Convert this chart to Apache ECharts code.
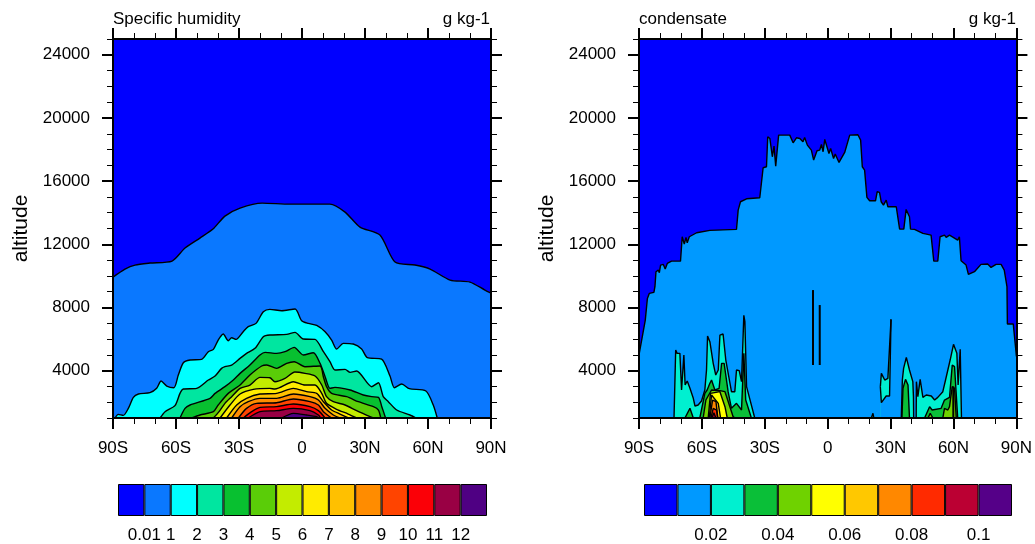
<!DOCTYPE html>
<html>
<head>
<meta charset="utf-8">
<style>
html,body{margin:0;padding:0;background:#fff;}
#main{width:1035px;height:544px;}
</style>
<script src="https://cdn.jsdelivr.net/npm/echarts@6/dist/echarts.min.js"></script>
</head>
<body>
<div id="main"></div>
<script>
// tick labels
var latTicks = [-90, -60, -30, 0, 30, 60, 90];
var latLabels = ['90S', '60S', '30S', '0', '30N', '60N', '90N'];
var altTicks = [4000, 8000, 12000, 16000, 20000, 24000];

// colour bars
var humidityColors = ['#0000ff', '#0a78ff', '#00ffff', '#00e6a0', '#08c030', '#5acd08', '#c3ec00', '#ffeb00', '#ffc000', '#ff8c00', '#ff4400', '#fb0007', '#990044', '#4f0083'];
var humidityBarLabels = ['', '0.01', '1', '2', '3', '4', '5', '6', '7', '8', '9', '10', '11', '12', ''];
var condensateColors = ['#0000ff', '#0099ff', '#00f0d0', '#0abf38', '#6fd200', '#ffff00', '#ffc800', '#ff8800', '#ff2a00', '#bb0033', '#550088'];
var condensateBarLabels = ['', '', '0.02', '', '0.04', '', '0.06', '', '0.08', '', '0.1', ''];

// specific humidity contours, [lat, altitude]
var q001 = [[-90,9925],[-84.3,10432],[-79.5,10685],[-72.4,10812],[-61.9,10938],[-55.7,11761],[-48.6,12394],[-42.4,12964],[-36.7,13787],[-29.5,14293],[-19,14610],[-5.7,14546],[13.3,14546],[20.5,14040],[27.6,13090],[37.1,12584],[44.3,10875],[53.8,10685],[61,10432],[70.5,9735],[80,9609],[87.1,9102],[90,8913]];
var q1 = [[-89,1000],[-87.5,1232],[-85.1,1168],[-82.7,1611],[-80.3,2308],[-77.9,2519],[-72.4,2603],[-69.2,2878],[-67.1,3342],[-64.4,3025],[-61,2920],[-58.9,3722],[-56.5,4502],[-53.3,4671],[-47.8,4713],[-44.6,5198],[-42.2,5346],[-39.9,5937],[-37.5,6317],[-35.1,5895],[-33.5,6085],[-31.4,5979],[-28,6465],[-25.6,6781],[-21.9,6992],[-18.4,7730],[-15.3,7878],[-9.7,7794],[-3.3,7900],[-0.15,7161],[3,6992],[7,6865],[11,6465],[14.1,5937],[16.5,5367],[19.7,5726],[24.4,5684],[28.4,5367],[31.1,4819],[37.9,4734],[41.9,3658],[44,2920],[47.5,3152],[51.1,2856],[59,2709],[62.5,1822],[64.4,1000]];
var q2 = [[-67.6,1000],[-65.2,1400],[-60.5,1780],[-58.1,2560],[-56.5,2835],[-50.2,2878],[-44.6,3405],[-41.4,3658],[-38.3,4143],[-36.7,4249],[-33.5,4355],[-29.5,4777],[-26.4,5093],[-22.4,5410],[-18.4,6148],[-15.3,6253],[-7.3,6296],[-3.3,6422],[0.6,6000],[6.2,5979],[10.2,5198],[13.3,4565],[15.7,4038],[20.5,4080],[22.9,3890],[26,3975],[33.2,2983],[36.4,3236],[38.7,2350],[41.1,2033],[45.1,1506],[51.4,1190],[54.3,1000]];
var q3 = [[-58.1,1000],[-55.7,1611],[-53.3,1822],[-43.8,2245],[-41.4,2560],[-36.7,2983],[-32.7,3405],[-29.5,3827],[-24.8,4355],[-20,4988],[-17.6,5156],[-12.1,5093],[-8.1,5198],[-3.7,5473],[0.6,4988],[5.4,5135],[8.6,4460],[11,3616],[13.3,2878],[15.7,2940],[22.9,2772],[29.2,2456],[33.2,2350],[36.4,2308],[38,1717],[39.8,1000]];
var q4 = [[-52.5,1000],[-48.6,1190],[-42.2,1400],[-39.9,1822],[-35.1,2560],[-29.5,3088],[-24.8,3722],[-19.2,4292],[-16.8,4355],[-12.1,4143],[-7.3,4460],[-3.7,4565],[1.4,4249],[8.6,4292],[10.2,3600],[11.7,2983],[14.1,2560],[21.3,2350],[26.8,2033],[34,1717],[36.4,1506],[37.5,1000]];
var q5 = [[-42.2,1000],[-39.5,1400],[-36.7,1928],[-33.5,2350],[-29.5,2878],[-24.8,3088],[-20,3574],[-15.3,3553],[-12.9,3300],[-8.1,3510],[-3.4,3910],[1.4,3827],[6.2,3658],[9.4,3088],[11.7,2350],[14.9,2033],[20.5,1822],[26,1464],[32.4,1084],[34,1000]];
var q6 = [[-39,1000],[-34.3,1822],[-29.5,2519],[-23.2,2814],[-15.3,2878],[-12.9,2835],[-4.1,3300],[1.4,3088],[6.2,3088],[9.4,2560],[11.7,1928],[16.5,1548],[22,1252],[26,1000]];
var q7 = [[-35.9,1000],[-31.1,1822],[-26.4,2245],[-20,2519],[-12.1,2560],[-4.1,2878],[2.2,2667],[7,2560],[10.2,2033],[14.1,1506],[18.1,1252],[22.1,1000]];
var q8 = [[-33.5,1000],[-29.5,1717],[-25.6,2033],[-20,2245],[-12.1,2245],[-4.1,2519],[3.8,2350],[7.8,2140],[11,1611],[14.9,1190],[18.1,1000]];
var q9 = [[-30.3,1000],[-26.4,1611],[-21.6,1928],[-12.1,1970],[-4.1,2203],[3.8,2033],[7.8,1822],[10.2,1400],[14.1,1000]];
var q10 = [[-27.9,1000],[-24,1400],[-20,1675],[-12.1,1717],[-4.1,1886],[3.8,1717],[7.8,1464],[11,1000]];
var q11 = [[-25.6,1000],[-20,1400],[-12.1,1464],[-4.1,1611],[3.8,1464],[7.8,1190],[8.9,1000]];
var q12 = [[-9.7,1000],[-4.1,1295],[2.2,1190],[7,1084],[7.8,1000]];
var humidityContours = [q001, q1, q2, q3, q4, q5, q6, q7, q8, q9, q10, q11, q12];

// condensate contours, [lat, altitude]
var cTop = [[-90,5000],[-89.6,5000],[-87,7200],[-86,8570],[-85.1,8891],[-82.9,8954],[-82.4,9313],[-81.9,10263],[-80.8,10368],[-80.3,10199],[-79.7,10685],[-78.4,10727],[-77.5,10431],[-76.5,10790],[-74.5,10937],[-70.2,10937],[-69.4,12478],[-68.4,12014],[-67.6,12436],[-67,12098],[-66,12478],[-62.5,12731],[-56.2,12879],[-43.5,12942],[-42.7,14166],[-41.6,14694],[-38.7,14883],[-32.4,14947],[-30.8,16846],[-29.2,16909],[-28.6,18808],[-27.6,18703],[-26.4,17542],[-25.6,18217],[-24.8,16951],[-24.3,16951],[-23.4,18913],[-18.1,18913],[-16.5,18428],[-14.9,18745],[-13.3,18703],[-11.8,18491],[-11,18766],[-9.7,18280],[-7.8,17964],[-6.7,17331],[-5.1,17922],[-3.8,17964],[-3,18323],[-2.2,17859],[-1.4,18639],[0.6,17753],[1.4,18069],[2.8,17437],[3.6,17711],[5.4,17183],[8.1,17816],[10.5,18913],[14.4,18935],[15.7,18597],[16.5,16909],[17.6,16698],[18.7,14968],[20,14757],[22.8,14757],[23.6,15327],[24.7,15284],[25.5,14694],[26.6,14482],[27.9,14799],[28.7,14377],[32.7,14377],[34.3,12963],[36.3,12963],[37.4,14208],[39,13744],[39.5,12963],[41.4,12942],[45.4,12689],[49.3,12584],[50.6,10937],[52.5,10937],[53.6,12478],[55.7,12584],[56.5,12436],[58.1,12584],[62,12267],[62.8,12478],[63.6,10958],[66,10685],[67.1,10094],[70,10263],[73.1,10727],[76.3,10748],[77.9,10537],[80.3,10727],[82.7,10727],[84.2,10368],[85.5,9313],[85.7,6950],[88.5,6950],[89.8,5200],[90,4900]];
var c2West = [[-73.3,1000],[-72.5,5304],[-71.8,5093],[-71.2,4990],[-70.5,5093],[-69.7,2772],[-69,2772],[-68.6,4988],[-68,3088],[-67,3342],[-65.7,2878],[-64.1,2245],[-63.3,1759],[-61.8,1822],[-60.2,2076],[-58.6,2772],[-57.8,4038],[-57.3,6190],[-56.2,5831],[-54.6,4460],[-53.4,3722],[-52.2,4038],[-51.4,6253],[-49.9,6317],[-48.6,4671],[-45.9,2667],[-44.3,2667],[-43.5,4038],[-42.2,3996],[-41.1,3300],[-40,7500],[-39.5,7100],[-38.7,2983],[-34.8,1000]];
var c2Island = [[25.1,2983],[25.6,3827],[27.2,3405],[28.7,3511],[30.2,7245]];
var c2IslandLow = [[25.1,2983],[25.6,1970],[27.9,2392],[29.5,2392],[30.2,7245]];
var c2Blip = [[20.8,1000],[21.6,1295],[22,1000]];
var c2Hump = [[35.1,1000],[35.6,3405],[36.2,4143],[37.5,4840],[39,4038],[40.6,3300],[40.9,2350],[41,1000]];
var c2East = [[42.2,1000],[42.3,3300],[43,2350],[44.1,3447],[45.4,2308],[47,2456],[49.4,2392],[51,2139],[52.5,2308],[54.9,2667],[56.2,3405],[58.4,4671],[60,5663],[61.6,5093],[62.2,3089],[63.2,5346],[63.8,1000]];
var c3a = [[-68.1,1000],[-65.7,1612],[-64.1,1000]];
var c3b = [[-61,1000],[-58.6,2561],[-57.5,2772],[-56.2,3194],[-55.4,3405],[-53.8,2772],[-51.8,2877],[-50.6,4460],[-49.4,4460],[-47.5,2667],[-45.9,1612],[-43.5,1928],[-41.1,1506],[-40,5093],[-39.1,2139],[-36.4,1000]];
var c3c = [[35.4,1000],[35.9,2877],[37.1,3447],[38.3,3089],[39,1000]];
var c3d = [[46.2,1000],[48.6,1717],[49.8,1506],[54.1,1612],[55.7,2139],[58.1,2308],[59.4,4354],[60.5,4249],[62,1000]];
var c4a = [[-59.4,1000],[-58.1,2139],[-55.4,2772],[-51.4,2730],[-49,2667],[-45.1,1084],[-44.3,1000]];
var c4b = [[47.8,1000],[48.9,1295],[50.2,1000]];
var c4c = [[54.9,1000],[55.7,1612],[57.3,1506],[58.1,1717],[59.4,2983],[60.5,2878],[61.3,1000]];
var c5 = [[-57,1000],[-55.9,2561],[-51.4,2667],[-49,1717],[-47.9,1000]];
var c6 = [[-56.5,1000],[-55.4,2455],[-54.6,2561],[-52.2,1928],[-51.1,1000]];
var c7 = [[-56.2,1000],[-54.9,2139],[-53.3,2033],[-52.4,1000]];
var c8 = [[-55.7,1000],[-54.6,1612],[-53,1506],[-52.5,1000]];
var c9 = [[-55.2,1000],[-54.3,1337],[-53.3,1000]];
var condensateContours = [cTop, c2West, c2Island, c2IslandLow, c2Blip, c2Hump, c2East, c3a, c3b, c3c, c3d, c4a, c4b, c4c, c5, c6, c7, c8, c9];
// which colour of the bar fills each contour above
var condensateLevels = [1, 2, 2, 1, 2, 2, 2, 3, 3, 3, 3, 4, 4, 4, 5, 6, 7, 8, 9];
// very thin closed contours, only the black line shows
var cSpike1 = [[-7,4355],[-7,9102]];
var cSpike2 = [[-3.8,4355],[-3.8,8153]];
var cSpike3 = [[59.9,1000],[59.9,3000]];

var fontName = '"Liberation Sans", Arial, sans-serif';
var grids = [], xAxes = [], yAxes = [], seriesList = [];

function latFormat(v) {
	var i = latTicks.indexOf(v);
	return i >= 0 ? latLabels[i] : '';
}

function addLatAxis(gridIndex, position, showLabel) {
	xAxes.push({
		type: 'value', gridIndex: gridIndex, position: position, min: -90, max: 90, interval: 30, z: 10,
		splitLine: {show: false},
		axisLine: {show: true, onZero: false, lineStyle: {color: '#000', width: 2}},
		axisTick: {show: true, length: 11, lineStyle: {color: '#000', width: 2}},
		minorTick: {show: true, splitNumber: 3, length: 6, lineStyle: {color: '#000', width: 1}},
		axisLabel: {show: showLabel, margin: 22, fontSize: 17, color: '#000', fontFamily: fontName, formatter: latFormat}
	});
}

function addAltAxes(gridIndex, position, showLabel) {
	var major = {
		type: 'value', gridIndex: gridIndex, position: position, min: 1000, max: 25000, z: 10,
		splitLine: {show: false},
		axisLine: {show: true, onZero: false, lineStyle: {color: '#000', width: 2}},
		axisTick: {show: true, length: 11, customValues: altTicks, lineStyle: {color: '#000', width: 2}},
		axisLabel: {show: showLabel, customValues: altTicks, margin: 23, padding: [4, 0, 0, 0], fontSize: 17, color: '#000', fontFamily: fontName, formatter: function (v) { return String(v); }}
	};
	if (showLabel) {
		major.name = 'altitude';
		major.nameLocation = 'middle';
		major.nameGap = 81;
		major.nameTextStyle = {fontSize: 21, color: '#000', fontFamily: fontName};
	}
	yAxes.push(major);
	// second axis only for the short ticks
	yAxes.push({
		type: 'value', gridIndex: gridIndex, position: position, min: 1000, max: 25000, interval: 1000, z: 9,
		splitLine: {show: false},
		axisLine: {show: false, onZero: false},
		axisTick: {show: true, length: 6, lineStyle: {color: '#000', width: 1}},
		axisLabel: {show: false}
	});
}

function addPanel(left, contours, levels, colors, thinLines, smoothing, lineWidth) {
	var g = grids.length;
	grids.push({left: left, top: 39, width: 378, height: 379, show: true, borderWidth: 0, backgroundColor: colors[0]});
	var xBase = xAxes.length, yBase = yAxes.length;
	addLatAxis(g, 'bottom', true);
	addLatAxis(g, 'top', false);
	addAltAxes(g, 'left', true);
	addAltAxes(g, 'right', false);
	contours.forEach(function (points, i) {
		seriesList.push({
			type: 'line', xAxisIndex: xBase, yAxisIndex: yBase, data: points,
			showSymbol: false, silent: true, smooth: smoothing,
			lineStyle: {color: '#000', width: lineWidth},
			areaStyle: {color: colors[levels[i]], opacity: 1, origin: 'start'}
		});
	});
	thinLines.forEach(function (points) {
		seriesList.push({
			type: 'line', xAxisIndex: xBase, yAxisIndex: yBase, data: points,
			showSymbol: false, silent: true, lineStyle: {color: '#000', width: 2}
		});
	});
}

function addColorBar(left, width, colors, labels) {
	var g = grids.length;
	grids.push({left: left, top: 484, width: width, height: 34});
	var xBase = xAxes.length, yBase = yAxes.length;
	xAxes.push({type: 'category', gridIndex: g, show: false, data: colors});
	xAxes.push({
		type: 'value', gridIndex: g, position: 'bottom', min: 0, max: colors.length, interval: 1,
		splitLine: {show: false}, axisLine: {show: false, onZero: false}, axisTick: {show: false},
		axisLabel: {margin: 11, fontSize: 17, color: '#000', fontFamily: fontName, formatter: function (v) { return labels[v] || ''; }}
	});
	yAxes.push({type: 'value', gridIndex: g, show: false, min: 0, max: 1});
	seriesList.push({
		type: 'bar', xAxisIndex: xBase, yAxisIndex: yBase, barWidth: '100%', silent: true,
		data: colors.map(function (c) {
			return {value: 1, itemStyle: {color: c, borderColor: '#000', borderWidth: 1}};
		})
	});
}

var humidityLevels = humidityContours.map(function (c, i) { return i + 1; });

addPanel(113, humidityContours, humidityLevels, humidityColors, [], 0.25, 1.4);
addPanel(639, condensateContours, condensateLevels, condensateColors, [cSpike1, cSpike2, cSpike3], false, 1.4);
addColorBar(118, 369, humidityColors, humidityBarLabels);
addColorBar(644, 368, condensateColors, condensateBarLabels);

function titleText(text, pos) {
	return Object.assign({text: text, top: 11, padding: 0, textStyle: {fontSize: 17, fontWeight: 'normal', color: '#000', fontFamily: fontName}}, pos);
}

var myChart = echarts.init(document.getElementById('main'), null, {renderer: 'canvas'});
myChart.setOption({
	animation: false,
	backgroundColor: '#fff',
	title: [
		titleText('Specific humidity', {left: 113}),
		titleText('g kg-1', {right: 545}),
		titleText('condensate', {left: 639}),
		titleText('g kg-1', {right: 19})
	],
	grid: grids,
	xAxis: xAxes,
	yAxis: yAxes,
	series: seriesList
});
</script>
</body>
</html>
